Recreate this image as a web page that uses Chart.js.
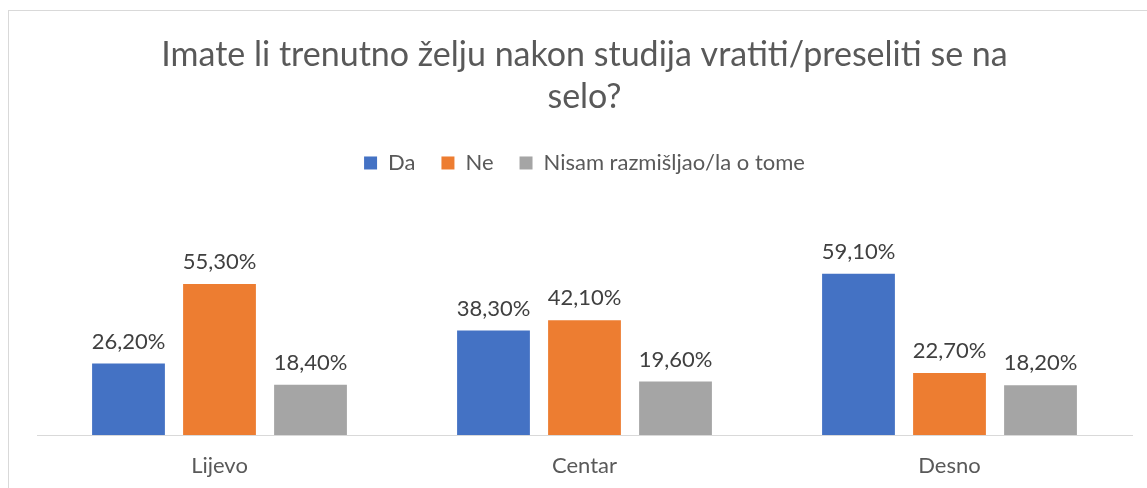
<!DOCTYPE html>
<html>
<head>
<meta charset="utf-8">
<script src="https://cdn.jsdelivr.net/npm/chart.js@4/dist/chart.umd.min.js"></script>
<style>
html,body{margin:0;padding:0;background:#fff;}
#wrap{position:absolute;left:0;top:0;width:1147px;height:488px;}
#frame{position:absolute;left:8px;top:10px;width:1139px;height:478px;border-left:1px solid #d9d9d9;border-top:1px solid #d9d9d9;box-sizing:border-box;}
canvas{position:absolute;left:0;top:0;}
</style>
</head>
<body>
<div id="wrap"><div id="frame"></div><canvas id="c" width="1147" height="488"></canvas></div>
<script>
const categories = ['Lijevo', 'Centar', 'Desno'];
const seriesNames = ['Da', 'Ne', 'Nisam razmišljao/la o tome'];
const da = [26.2, 38.3, 59.1];
const ne = [55.3, 42.1, 22.7];
const nisam = [18.4, 19.6, 18.2];
const titleLines = ['Imate li trenutno želju nakon studija vratiti/preseliti se na', 'selo?'];

const FONT = 'Lato, "Liberation Sans", sans-serif';
const colors = ['#4472C4', '#ED7D31', '#A5A5A5'];

const labelPlugin = {
  id: 'valueLabels',
  afterDatasetsDraw(chart) {
    const ctx = chart.ctx;
    ctx.save();
    ctx.font = '22px ' + FONT;
    ctx.fillStyle = '#404040';
    ctx.textAlign = 'center';
    ctx.textBaseline = 'middle';
    chart.data.datasets.forEach((ds, i) => {
      chart.getDatasetMeta(i).data.forEach((bar, j) => {
        const v = ds.data[j];
        ctx.fillText(v.toFixed(2).replace('.', ',') + '%', bar.x, bar.y - 22);
      });
    });
    ctx.restore();
  }
};

new Chart(document.getElementById('c'), {
  type: 'bar',
  data: {
    labels: categories,
    datasets: [
      { label: seriesNames[0], data: da, backgroundColor: colors[0] },
      { label: seriesNames[1], data: ne, backgroundColor: colors[1] },
      { label: seriesNames[2], data: nisam, backgroundColor: colors[2] }
    ]
  },
  options: {
    responsive: false,
    animation: false,
    devicePixelRatio: 1,
    categoryPercentage: 0.748,
    barPercentage: 0.80,
    layout: { padding: { left: 37, right: 15, top: 0, bottom: 8 } },
    plugins: {
      title: {
        display: true,
        text: titleLines,
        color: '#595959',
        font: { family: FONT, size: 34, weight: 'normal', lineHeight: 1.235 },
        padding: { top: 34, bottom: 8 }
      },
      legend: {
        display: true,
        labels: {
          color: '#595959',
          font: { family: FONT, size: 22 },
          boxWidth: 13, boxHeight: 13,
          padding: 26
        }
      },
      tooltip: { enabled: false }
    },
    scales: {
      x: {
        grid: { display: false, drawTicks: false },
        border: { display: true, color: '#d9d9d9', width: 1 },
        ticks: { color: '#595959', font: { family: FONT, size: 22 }, padding: 18 },
        afterFit(scale) { scale.height = 45; }
      },
      y: {
        display: false,
        min: 0,
        max: 92
      }
    }
  },
  plugins: [labelPlugin]
});
</script>
</body>
</html>
